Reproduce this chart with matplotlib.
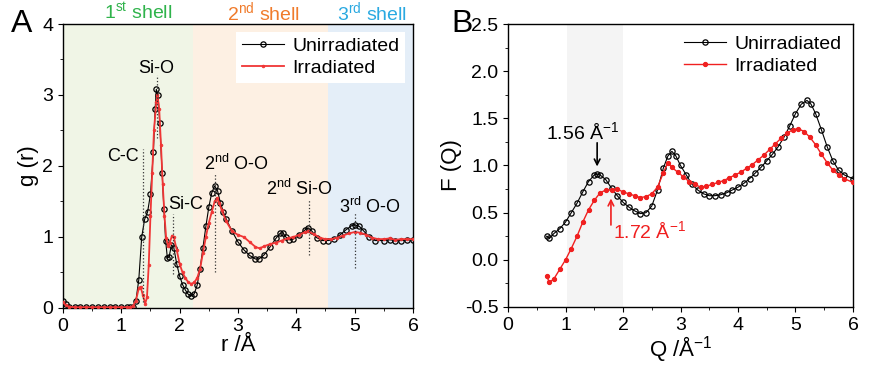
import matplotlib
matplotlib.use('Agg')
from matplotlib import pyplot as plt
from matplotlib.ticker import MultipleLocator

plt.rcParams['font.family'] = ['Liberation Sans', 'DejaVu Sans']
plt.rcParams['mathtext.default'] = 'regular'

# panel A: pair distribution g(r)
r_unirr = [0.0, 0.05, 0.1, 0.2, 0.3, 0.4, 0.5, 0.6, 0.7, 0.8, 0.9, 1.0, 1.1, 1.15,
           1.2, 1.25, 1.3, 1.35, 1.4, 1.45, 1.5, 1.55, 1.58, 1.6, 1.63, 1.66, 1.7,
           1.73, 1.76, 1.79, 1.82, 1.86, 1.9, 1.95, 2.0, 2.05, 2.1, 2.15, 2.2, 2.25,
           2.3, 2.35, 2.4, 2.45, 2.5, 2.55, 2.6, 2.65, 2.7, 2.75, 2.8, 2.9, 3.0, 3.1,
           3.2, 3.3, 3.36, 3.45, 3.55, 3.65, 3.72, 3.77, 3.82, 3.88, 3.95, 4.05, 4.15,
           4.2, 4.27, 4.35, 4.45, 4.55, 4.65, 4.75, 4.85, 4.95, 5.0, 5.08, 5.15, 5.25,
           5.35, 5.5, 5.6, 5.7, 5.8, 5.9, 6.0]
g_unirr = [0.1, 0.05, 0.02, 0.01, 0.01, 0.01, 0.01, 0.01, 0.01, 0.01, 0.01, 0.01, 0.01, 0.01,
           0.02, 0.1, 0.4, 1.0, 1.25, 1.35, 1.6, 2.2, 2.8, 3.08, 3.0, 2.6, 1.9,
           1.4, 0.95, 0.7, 0.72, 0.89, 0.85, 0.62, 0.45, 0.33, 0.25, 0.19, 0.17, 0.2,
           0.32, 0.55, 0.85, 1.15, 1.42, 1.62, 1.72, 1.65, 1.48, 1.35, 1.25, 1.08, 0.93, 0.82,
           0.74, 0.69, 0.69, 0.75, 0.86, 0.98, 1.05, 1.06, 1.0, 0.96, 0.97, 1.03, 1.1,
           1.13, 1.08, 0.99, 0.95, 0.95, 0.97, 1.03, 1.1, 1.16, 1.17, 1.15, 1.09, 1.0,
           0.95, 0.95, 0.96, 0.95, 0.95, 0.96, 0.96]

r_irr = [0.0, 0.05, 0.1, 0.2, 0.3, 0.4, 0.5, 0.6, 0.7, 0.8, 0.9, 1.0, 1.1, 1.15,
         1.2, 1.25, 1.3, 1.33, 1.37, 1.41, 1.44, 1.47, 1.5, 1.53, 1.56, 1.6, 1.62,
         1.65, 1.68, 1.71, 1.74, 1.77, 1.8, 1.83, 1.87, 1.9, 1.95, 2.0, 2.05, 2.1,
         2.15, 2.2, 2.25, 2.3, 2.35, 2.4, 2.45, 2.5, 2.55, 2.6, 2.64, 2.68, 2.72, 2.8,
         2.9, 3.0, 3.1, 3.2, 3.3, 3.37, 3.45, 3.55, 3.65, 3.75, 3.85, 3.95, 4.05,
         4.15, 4.2, 4.3, 4.4, 4.5, 4.6, 4.7, 4.8, 4.9, 5.0, 5.1, 5.2, 5.3, 5.4, 5.5,
         5.6, 5.7, 5.8, 5.9, 6.0]
g_irr = [0.08, 0.04, 0.02, 0.01, 0.01, 0.01, 0.01, 0.01, 0.01, 0.01, 0.01, 0.01, 0.01, 0.01,
         0.03, 0.1, 0.28, 0.3, 0.18, 0.06, 0.15, 0.6, 1.3, 1.9, 2.5, 2.9, 3.0,
         2.8, 2.3, 1.75, 1.3, 0.98, 0.88, 0.92, 1.02, 1.0, 0.82, 0.62, 0.5, 0.42,
         0.36, 0.34, 0.36, 0.42, 0.55, 0.78, 1.0, 1.2, 1.35, 1.5, 1.55, 1.48, 1.38, 1.22,
         1.08, 1.03, 1.0, 0.93, 0.86, 0.84, 0.87, 0.9, 0.92, 0.95, 0.98, 1.0, 1.03,
         1.07, 1.08, 1.04, 0.99, 0.97, 0.97, 0.99, 1.02, 1.05, 1.07, 1.06, 1.03, 0.99, 0.97, 0.97,
         0.98, 0.96, 0.97, 0.97, 0.97]

# peak markers
peak_labels = ['C-C', 'Si-O', 'Si-C', '$2^{nd}$ O-O', '$2^{nd}$ Si-O', '$3^{rd}$ O-O']
peak_r = [1.37, 1.62, 1.88, 2.61, 4.21, 5.0]
peak_lo = [0.08, 2.4, 0.48, 0.5, 0.74, 0.57]
peak_hi = [2.24, 3.28, 1.33, 1.89, 1.52, 1.35]
peak_tx = [1.3, 1.6, 2.1, 2.98, 4.05, 5.27]
peak_ty = [2.13, 3.38, 1.46, 2.03, 1.68, 1.42]
peak_ha = ['right', 'center', 'center', 'center', 'center', 'center']

shell_names = ['$1^{st}$ shell', '$2^{nd}$ shell', '$3^{rd}$ shell']
shell_edges = [0, 2.23, 4.55, 6]
shell_fill = ['#f0f5e6', '#fdf0e3', '#e4eef8']
shell_text = ['#2fb34b', '#f07b2b', '#2aa9e1']
shell_tx = [1.29, 3.43, 5.3]

# panel B: structure factor F(Q)
q_unirr = [0.67, 0.72, 0.8, 0.9, 1.0, 1.1, 1.2, 1.3, 1.4, 1.5, 1.55, 1.6, 1.7, 1.8,
           1.9, 2.0, 2.1, 2.2, 2.3, 2.4, 2.5, 2.6, 2.7, 2.78, 2.85, 2.92, 3.0, 3.1,
           3.2, 3.3, 3.4, 3.5, 3.6, 3.7, 3.8, 3.9, 4.0, 4.1, 4.2, 4.3, 4.4, 4.5, 4.6,
           4.7, 4.8, 4.9, 5.0, 5.1, 5.2, 5.27, 5.35, 5.45, 5.55, 5.65, 5.75, 5.85, 6.0]
f_unirr = [0.25, 0.23, 0.28, 0.33, 0.4, 0.5, 0.6, 0.72, 0.83, 0.9, 0.91, 0.9, 0.85, 0.76,
           0.68, 0.61, 0.56, 0.52, 0.49, 0.5, 0.57, 0.74, 0.97, 1.1, 1.15, 1.1, 1.0, 0.9,
           0.8, 0.74, 0.7, 0.68, 0.68, 0.69, 0.71, 0.74, 0.77, 0.81, 0.86, 0.92, 0.98, 1.05, 1.12,
           1.2, 1.3, 1.42, 1.55, 1.65, 1.69, 1.65, 1.55, 1.38, 1.2, 1.05, 0.95, 0.9, 0.86]

q_irr = [0.67, 0.72, 0.8, 0.9, 1.0, 1.1, 1.2, 1.3, 1.4, 1.5, 1.6, 1.7, 1.8, 1.9,
         2.0, 2.1, 2.2, 2.3, 2.4, 2.5, 2.6, 2.7, 2.78, 2.85, 2.95, 3.05, 3.15, 3.25,
         3.35, 3.45, 3.55, 3.65, 3.75, 3.85, 3.95, 4.05, 4.15, 4.25, 4.35, 4.45, 4.55,
         4.65, 4.75, 4.85, 4.95, 5.05, 5.15, 5.25, 5.35, 5.45, 5.55, 5.65, 5.75, 5.85, 6.0]
f_irr = [-0.17, -0.24, -0.2, -0.1, 0.0, 0.12, 0.25, 0.4, 0.53, 0.63, 0.71, 0.74, 0.74, 0.75,
         0.72, 0.7, 0.68, 0.66, 0.67, 0.7, 0.77, 0.92, 1.03, 0.98, 0.93, 0.88, 0.83, 0.8,
         0.77, 0.78, 0.8, 0.82, 0.84, 0.87, 0.9, 0.93, 0.97, 1.01, 1.06, 1.11, 1.17,
         1.23, 1.29, 1.34, 1.38, 1.39, 1.36, 1.3, 1.22, 1.12, 1.03, 0.95, 0.9, 0.86, 0.82]

fig = plt.figure(figsize=(8.72, 3.67), dpi=100)
axA = fig.add_axes([0.0722, 0.1608, 0.4014, 0.7738])
axB = fig.add_axes([0.5826, 0.1635, 0.3956, 0.7711])

# ---- panel A ----
for i in range(3):
    axA.axvspan(shell_edges[i], shell_edges[i + 1], color=shell_fill[i], lw=0, zorder=0)
    axA.text(shell_tx[i], 4.17, shell_names[i], color=shell_text[i], fontsize=14,
             ha='center', va='center')

axA.plot(r_unirr, g_unirr, '-o', color='black', lw=0.8, ms=3.8, mfc='none', mew=0.9,
         label='Unirradiated', zorder=3)
axA.plot(r_irr, g_irr, '-o', color='#f03535', lw=1.3, ms=2, mew=0.5,
         label='Irradiated', zorder=4)

for i in range(len(peak_labels)):
    axA.plot([peak_r[i], peak_r[i]], [peak_lo[i], peak_hi[i]], ls=':', color='#333333',
             lw=0.9, zorder=5)
    axA.text(peak_tx[i], peak_ty[i], peak_labels[i], fontsize=13, ha=peak_ha[i],
             va='center', zorder=6)

axA.set_xlim(0, 6)
axA.set_ylim(0, 4)
axA.xaxis.set_major_locator(MultipleLocator(1))
axA.xaxis.set_minor_locator(MultipleLocator(0.5))
axA.yaxis.set_major_locator(MultipleLocator(1))
axA.yaxis.set_minor_locator(MultipleLocator(0.5))
axA.set_xlabel('r /Å', fontsize=16, labelpad=0)
axA.set_ylabel('g (r)', fontsize=16, labelpad=2)
axA.tick_params(labelsize=14)
leg = axA.legend(loc='upper right', fontsize=14, frameon=True, fancybox=False,
                 edgecolor='none', handlelength=2.2, borderaxespad=0.4,
                 labelspacing=0.2, borderpad=0.3, handletextpad=0.4)
leg.get_frame().set_alpha(1)
fig.text(0.012, 0.935, 'A', fontsize=23, va='center')

# ---- panel B ----
axB.axvspan(1.03, 2.0, color='#f4f4f4', lw=0, zorder=0)
axB.plot(q_unirr, f_unirr, '-o', color='black', lw=0.8, ms=3.8, mfc='none', mew=0.9,
         label='Unirradiated', zorder=3)
axB.plot(q_irr, f_irr, '-o', color='#f02020', lw=1.0, ms=3, mew=0.8,
         label='Irradiated', zorder=4)

axB.annotate('', xy=(1.55, 0.96), xytext=(1.55, 1.27),
             arrowprops=dict(arrowstyle='->', color='black', lw=1.2))
axB.text(1.3, 1.35, '1.56 Å$^{-1}$', fontsize=14, ha='center', va='center')
axB.annotate('', xy=(1.79, 0.68), xytext=(1.79, 0.34),
             arrowprops=dict(arrowstyle='->', color='#f02020', lw=1.2))
axB.text(1.83, 0.3, '1.72 Å$^{-1}$', fontsize=14, ha='left', va='center', color='#f02020')

axB.set_xlim(0, 6)
axB.set_ylim(-0.5, 2.5)
axB.xaxis.set_major_locator(MultipleLocator(1))
axB.xaxis.set_minor_locator(MultipleLocator(0.5))
axB.yaxis.set_major_locator(MultipleLocator(0.5))
axB.yaxis.set_minor_locator(MultipleLocator(0.25))
axB.yaxis.set_major_formatter(plt.FormatStrFormatter('%.1f'))
axB.set_xlabel('Q /Å$^{-1}$', fontsize=16, labelpad=0)
axB.set_ylabel('F (Q)', fontsize=16, labelpad=2)
axB.tick_params(labelsize=14)
axB.legend(loc='upper right', fontsize=14, frameon=False, handlelength=2.2,
           borderaxespad=0.2, labelspacing=0.2, handletextpad=0.4)
fig.text(0.518, 0.935, 'B', fontsize=23, va='center')

for ax in (axA, axB):
    for s in ax.spines.values():
        s.set_linewidth(1.0)

plt.savefig('out.png', dpi=100)
